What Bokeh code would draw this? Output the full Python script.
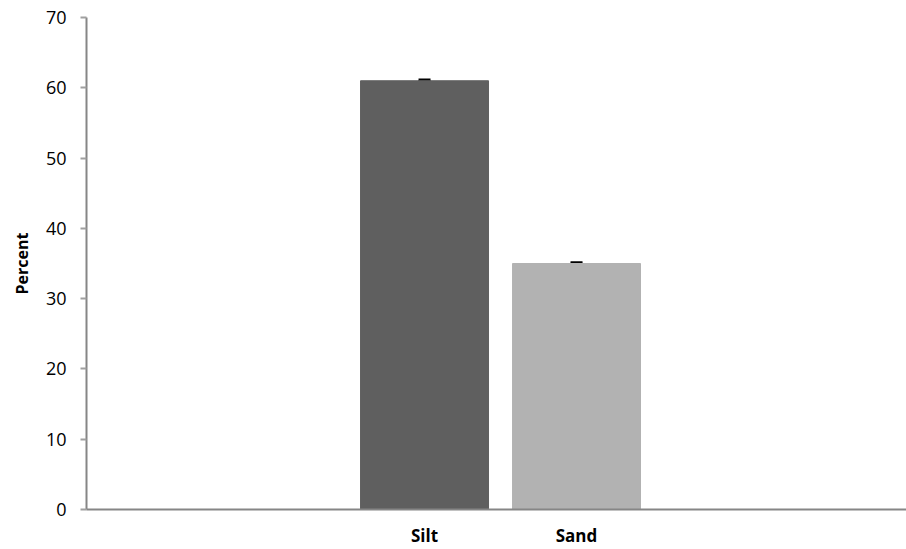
from bokeh.plotting import figure
from bokeh.models import ColumnDataSource, Range1d, FixedTicker, Whisker
from bokeh.embed import file_html
from bokeh.resources import INLINE

categories = ["Silt", "Sand"]
values = [61.0, 35.0]
errors = [0.1, 0.1]
bar_colors = ["#5f5f5f", "#b2b2b2"]
y_ticks = [0, 10, 20, 30, 40, 50, 60, 70]

x = list(range(len(categories)))
src = ColumnDataSource(dict(
    x=x, top=values,
    upper=[v + e for v, e in zip(values, errors)],
    lower=[v - e for v, e in zip(values, errors)],
    color=bar_colors,
))

p = figure(width=906, height=549, output_backend="svg", toolbar_location=None,
           x_range=Range1d(-2.224, 3.171), y_range=Range1d(0, 70),
           min_border_left=86, min_border_right=0, min_border_top=17,
           min_border_bottom=40)

p.vbar(x="x", top="top", width=0.842, color="color", source=src)

w = Whisker(base="x", upper="upper", lower="lower", source=src,
            line_color="black", line_width=1)
for head in (w.upper_head, w.lower_head):
    head.size = 12
    head.line_width = 3
    head.line_color = "black"
p.add_layout(w)

p.xgrid.visible = False
p.ygrid.visible = False
p.outline_line_color = None

p.yaxis.ticker = FixedTicker(ticks=y_ticks)
p.yaxis.minor_tick_line_color = None
p.yaxis.major_tick_in = 0
p.yaxis.major_tick_out = 6
p.yaxis.major_tick_line_color = "#a0a0a0"
p.yaxis.major_tick_line_width = 2
p.yaxis.axis_line_color = "#868686"
p.yaxis.axis_line_width = 2
p.yaxis.major_label_text_font = "Open Sans"
p.yaxis.major_label_text_font_size = "18px"
p.yaxis.major_label_text_color = "#000000"
p.yaxis.major_label_standoff = 14
p.yaxis.axis_label = "Percent"
p.yaxis.axis_label_text_font = "Open Sans"
p.yaxis.axis_label_text_font_style = "bold"
p.yaxis.axis_label_text_font_size = "16px"
p.yaxis.axis_label_text_color = "#000000"
p.yaxis.axis_label_standoff = 10

p.xaxis.ticker = FixedTicker(ticks=x)
p.xaxis.major_label_overrides = {i: c for i, c in zip(x, categories)}
p.xaxis.minor_tick_line_color = None
p.xaxis.major_tick_line_color = None
p.xaxis.major_tick_in = 0
p.xaxis.major_tick_out = 0
p.xaxis.axis_line_color = "#868686"
p.xaxis.axis_line_width = 2
p.xaxis.major_label_text_font = "Open Sans"
p.xaxis.major_label_text_font_style = "bold"
p.xaxis.major_label_text_font_size = "17px"
p.xaxis.major_label_text_color = "#000000"
p.xaxis.major_label_standoff = 14

open("out.html", "w").write(file_html(p, INLINE))
